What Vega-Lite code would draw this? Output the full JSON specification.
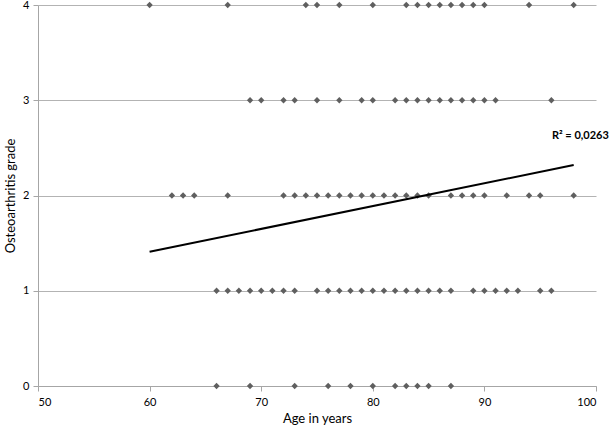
{
  "$schema": "https://vega.github.io/schema/vega-lite/v6.json",
  "width": 558,
  "height": 381,
  "autosize": "none",
  "padding": {"left": 38, "top": 5, "right": 13, "bottom": 42},
  "background": "white",
  "config": {
    "view": {"stroke": null},
    "font": "Lato",
    "axis": {"labelFont": "Lato", "titleFont": "Lato", "labelColor": "#000", "titleColor": "#000", "labelFontSize": 11, "titleFontSize": 13, "titleFontWeight": "normal", "domainColor": "#a6a6a6", "tickColor": "#a6a6a6", "gridColor": "#b3b3b3"}
  },
  "datasets": {
    "points": [
      {"age": 60, "grade": 4}, {"age": 67, "grade": 4}, {"age": 74, "grade": 4}, {"age": 75, "grade": 4}, {"age": 77, "grade": 4}, {"age": 80, "grade": 4}, {"age": 83, "grade": 4}, {"age": 84, "grade": 4}, {"age": 85, "grade": 4}, {"age": 86, "grade": 4}, {"age": 87, "grade": 4}, {"age": 88, "grade": 4}, {"age": 89, "grade": 4}, {"age": 90, "grade": 4}, {"age": 94, "grade": 4}, {"age": 98, "grade": 4},
      {"age": 69, "grade": 3}, {"age": 70, "grade": 3}, {"age": 72, "grade": 3}, {"age": 73, "grade": 3}, {"age": 75, "grade": 3}, {"age": 77, "grade": 3}, {"age": 79, "grade": 3}, {"age": 80, "grade": 3}, {"age": 82, "grade": 3}, {"age": 83, "grade": 3}, {"age": 84, "grade": 3}, {"age": 85, "grade": 3}, {"age": 86, "grade": 3}, {"age": 87, "grade": 3}, {"age": 88, "grade": 3}, {"age": 89, "grade": 3}, {"age": 90, "grade": 3}, {"age": 91, "grade": 3}, {"age": 96, "grade": 3},
      {"age": 62, "grade": 2}, {"age": 63, "grade": 2}, {"age": 64, "grade": 2}, {"age": 67, "grade": 2}, {"age": 72, "grade": 2}, {"age": 73, "grade": 2}, {"age": 74, "grade": 2}, {"age": 75, "grade": 2}, {"age": 76, "grade": 2}, {"age": 77, "grade": 2}, {"age": 78, "grade": 2}, {"age": 79, "grade": 2}, {"age": 80, "grade": 2}, {"age": 81, "grade": 2}, {"age": 82, "grade": 2}, {"age": 83, "grade": 2}, {"age": 84, "grade": 2}, {"age": 85, "grade": 2}, {"age": 87, "grade": 2}, {"age": 88, "grade": 2}, {"age": 89, "grade": 2}, {"age": 90, "grade": 2}, {"age": 92, "grade": 2}, {"age": 94, "grade": 2}, {"age": 95, "grade": 2}, {"age": 98, "grade": 2},
      {"age": 66, "grade": 1}, {"age": 67, "grade": 1}, {"age": 68, "grade": 1}, {"age": 69, "grade": 1}, {"age": 70, "grade": 1}, {"age": 71, "grade": 1}, {"age": 72, "grade": 1}, {"age": 73, "grade": 1}, {"age": 75, "grade": 1}, {"age": 76, "grade": 1}, {"age": 77, "grade": 1}, {"age": 78, "grade": 1}, {"age": 79, "grade": 1}, {"age": 80, "grade": 1}, {"age": 81, "grade": 1}, {"age": 82, "grade": 1}, {"age": 83, "grade": 1}, {"age": 84, "grade": 1}, {"age": 85, "grade": 1}, {"age": 86, "grade": 1}, {"age": 87, "grade": 1}, {"age": 89, "grade": 1}, {"age": 90, "grade": 1}, {"age": 91, "grade": 1}, {"age": 92, "grade": 1}, {"age": 93, "grade": 1}, {"age": 95, "grade": 1}, {"age": 96, "grade": 1},
      {"age": 66, "grade": 0}, {"age": 69, "grade": 0}, {"age": 73, "grade": 0}, {"age": 76, "grade": 0}, {"age": 78, "grade": 0}, {"age": 80, "grade": 0}, {"age": 82, "grade": 0}, {"age": 83, "grade": 0}, {"age": 84, "grade": 0}, {"age": 85, "grade": 0}, {"age": 87, "grade": 0}
    ],
    "trend": [{"age": 60, "grade": 1.41}, {"age": 98, "grade": 2.32}],
    "label": [{"age": 98.6, "grade": 2.62, "text": "R² = 0,0263"}]
  },
  "layer": [
    {
      "data": {"name": "points"},
      "mark": {"type": "point", "shape": "diamond", "filled": true, "color": "#5f5f5f", "size": 40, "opacity": 1},
      "encoding": {
        "x": {"field": "age", "type": "quantitative", "scale": {"domain": [50, 100], "nice": false, "zero": false}, "axis": {"title": "Age in years", "values": [50, 60, 70, 80, 90, 100], "format": "d", "grid": false, "tickSize": 5, "labelPadding": 5, "titlePadding": 5}},
        "y": {"field": "grade", "type": "quantitative", "scale": {"domain": [0, 4], "nice": false}, "axis": {"title": "Osteoarthritis grade", "values": [0, 1, 2, 3, 4], "format": "d", "grid": true, "tickSize": 5, "labelPadding": 4, "titlePadding": 5}}
      }
    },
    {
      "data": {"name": "trend"},
      "mark": {"type": "line", "color": "#000000", "strokeWidth": 2},
      "encoding": {
        "x": {"field": "age", "type": "quantitative"},
        "y": {"field": "grade", "type": "quantitative"}
      }
    },
    {
      "data": {"name": "label"},
      "mark": {"type": "text", "font": "Lato", "fontSize": 11, "fontWeight": "bold", "align": "center", "baseline": "middle", "color": "#000"},
      "encoding": {
        "x": {"field": "age", "type": "quantitative"},
        "y": {"field": "grade", "type": "quantitative"},
        "text": {"field": "text"}
      }
    }
  ]
}
